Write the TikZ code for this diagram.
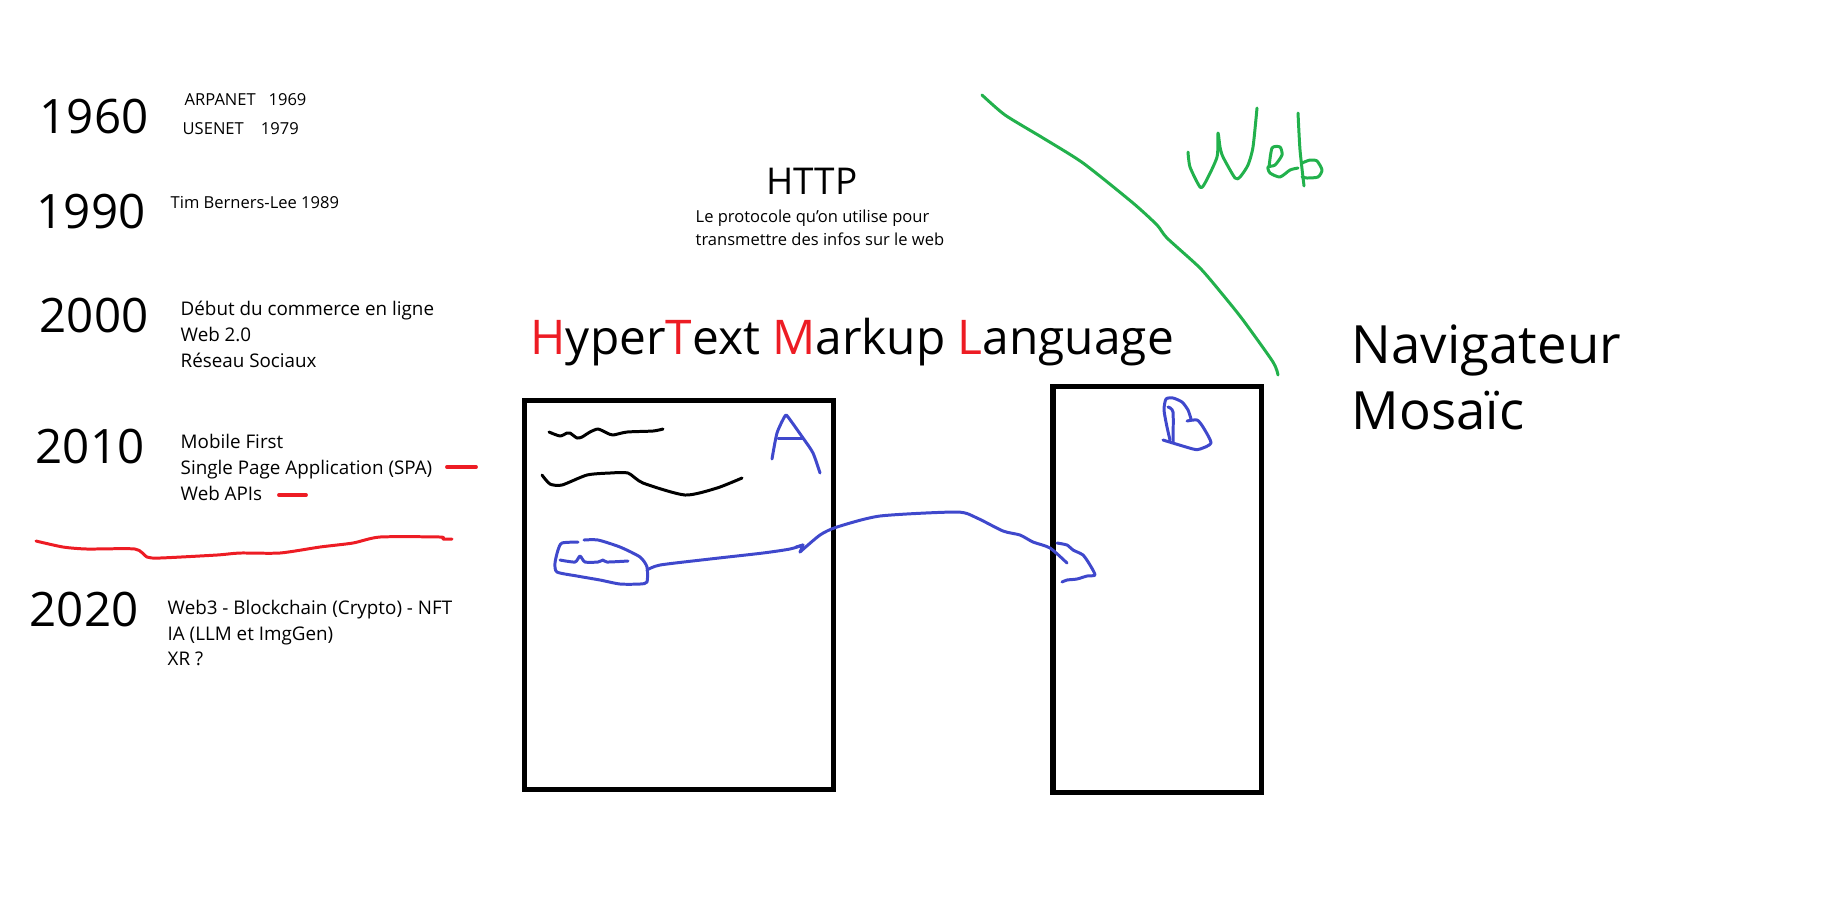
\documentclass[tikz,border=0pt]{standalone}
\usepackage{fontspec}
\setmainfont{Open Sans}
\usepackage{xcolor}
\usetikzlibrary{positioning}
\definecolor{paintred}{RGB}{237,28,36}
\definecolor{paintblue}{RGB}{63,72,204}
\definecolor{paintgreen}{RGB}{34,177,76}
\newcommand{\rl}[1]{\textcolor{paintred}{#1}}

\begin{document}
\begin{tikzpicture}[
    x=0.01cm, y=-0.01cm,
    year/.style={anchor=base west, inner sep=0pt, font=\fontsize{13.5}{16}\selectfont},
    note/.style={anchor=base west, inner sep=0pt, font=\fontsize{5.35}{6}\selectfont},
    small/.style={anchor=base west, inner sep=0pt, font=\fontsize{4.7}{5.5}\selectfont},
    title/.style={anchor=base west, inner sep=0pt, font=\fontsize{13.6}{16}\selectfont},
    page/.style={draw, line width=1.45pt, inner sep=0pt},
    pen/.style={line width=0.85pt, line cap=round, line join=round},
    marker/.style={pen, line width=1.1pt}
]
    \useasboundingbox (0,0) rectangle (1834,896);

    % timeline
    \node[year]  (y1960) at (39,133)  {1960};
    \node[small] (arpa)  at (184,105) {ARPANET\ \ \ 1969};
    \node[small] (usen)  at (182,134) {USENET\ \ \ \ 1979};

    \node[year]  (y1990) at (36,228)  {1990};
    \node[small] (tbl)   at (170,208) {Tim Berners-Lee 1989};

    \node[year]  (y2000) at (39,332)  {2000};
    \node[note]  (com)   at (180,315) {Début du commerce en ligne};
    \node[note]  (web2)  at (180,341) {Web 2.0};
    \node[note]  (soc)   at (180,367) {Réseau Sociaux};

    \node[year]  (y2010) at (35,463)  {2010};
    \node[note]  (mob)   at (180,448) {Mobile First};
    \node[note]  (spa)   at (180,474) {Single Page Application (SPA)};
    \node[note]  (apis)  at (180,500) {Web APIs};

    \node[year]  (y2020) at (29,626)  {2020};
    \node[note]  (web3)  at (167,614) {Web3 - Blockchain (Crypto) - NFT};
    \node[note]  (ia)    at (167,640) {IA (LLM et ImgGen)};
    \node[note]  (xr)    at (167,665) {XR ?};

    \draw[marker, paintred] (447,467) -- (476,467);
    \draw[marker, paintred] (279,495) -- (306,495);
    \draw[pen, paintred] plot[smooth, tension=0.4] coordinates {(36,541) (63,547) (87,549) (135,549) (147,557) (160,558) (217,555) (240,553) (280,553) (320,547) (353,543) (380,537) (440,537) (443,539) (452,539)};

    % http / html
    \node[anchor=base, inner sep=0pt, font=\fontsize{10.5}{12}\selectfont] (http) at (812,194) {HTTP};
    \node[small] (proto) at (695,222) {Le protocole qu'on utilise pour};
    \node[small] (trans) at (695,245) {transmettre des infos sur le web};
    \node[title] (html) at (530,354) {\rl{H}yper\rl{T}ext \rl{M}arkup \rl{L}anguage};

    \node[title, font=\fontsize{15}{18}\selectfont] (nav) at (1351,363) {Navigateur};
    \node[title, font=\fontsize{15}{18}\selectfont] (mos) at (1351,429) {Mosaïc};

    % pages
    \node[page, minimum width=3.08cm, minimum height=3.88cm] (pageA) at (679,595) {};
    \node[page, minimum width=2.08cm, minimum height=4.05cm] (pageB) at (1157,589.5) {};

    \draw[pen] plot[smooth, tension=0.4] coordinates {(549,432) (560,436) (567,433) (570,433) (577,438) (582,437) (590,432) (598,429) (607,433) (613,435) (627,432) (653,431) (663,429)};
    \draw[pen] plot[smooth, tension=0.4] coordinates {(542,475) (550,484) (562,485) (587,475) (610,473) (628,473) (643,483) (685,495) (717,488) (742,478)};

    % blue marks
    \begin{scope}[pen, paintblue]
        \draw plot[smooth, tension=0.4] coordinates {(772,459) (777,433) (785,416) (788,417) (803,438) (813,453) (820,473)};
        \draw (778,438) -- (803,438);
        \draw plot[smooth, tension=0.4] coordinates {(584,540) (598,540) (620,547) (640,557) (647,567) (647,582) (640,584) (620,584) (600,580) (577,576) (557,572) (555,563) (558,550) (562,543) (578,542)};
        \draw plot[smooth, tension=0.4] coordinates {(560,560) (575,562) (580,556) (585,562) (598,562) (603,560) (607,562) (628,561)};
        \coordinate (lasso) at (647,570);
        \coordinate (hand) at (1067,563);
        \draw plot[smooth, tension=0.4] coordinates {(lasso) (660,565) (710,559) (763,553) (790,549) (803,545)};
        \draw (796,547) -- (803,545) -- (800,552);
        \draw plot[smooth, tension=0.4] coordinates {(800,552) (820,535) (837,527) (880,516) (957,512) (977,518) (1003,531) (1020,535) (1033,542) (1050,548) (hand)};
        \draw plot[smooth, tension=0.4] coordinates {(1057,543) (1067,545) (1073,550) (1083,555) (1090,565) (1095,575) (1087,576) (1077,579) (1067,580) (1062,582)};
        \draw plot[smooth, tension=0.4] coordinates {(1170,440) (1167,427) (1164,410) (1166,399) (1173,398) (1182,402) (1188,410) (1191,419)};
        \draw plot[smooth, tension=0.4] coordinates {(1187,421) (1197,420) (1203,427) (1211,443) (1200,449) (1193,449) (1163,440)};
        \draw plot[smooth, tension=0.4] coordinates {(1168,407) (1173,412) (1173,442)};
    \end{scope}

    % web
    \begin{scope}[pen, paintgreen]
        \draw plot[smooth, tension=0.4] coordinates {(982,95) (1005,115) (1043,138) (1083,163) (1133,203) (1157,225) (1167,238) (1200,268) (1223,295) (1243,320) (1273,362) (1278,375)};
        \draw plot[smooth, tension=0.4] coordinates {(1188,152) (1190,167) (1200,187) (1205,183) (1217,157) (1218,133) (1220,147) (1223,157) (1235,178) (1240,177) (1248,165) (1253,147) (1257,108)};
        \draw plot[smooth, tension=0.4] coordinates {(1269,167) (1272,148) (1280,147) (1282,155) (1275,165) (1268,167) (1270,173) (1280,177) (1290,170) (1298,168)};
        \draw plot[smooth, tension=0.4] coordinates {(1298,113) (1300,150) (1304,186)};
        \draw plot[smooth, tension=0.4] coordinates {(1302,163) (1310,160) (1317,161) (1322,170) (1318,177) (1307,178) (1302,177)};
    \end{scope}
\end{tikzpicture}
\end{document}
